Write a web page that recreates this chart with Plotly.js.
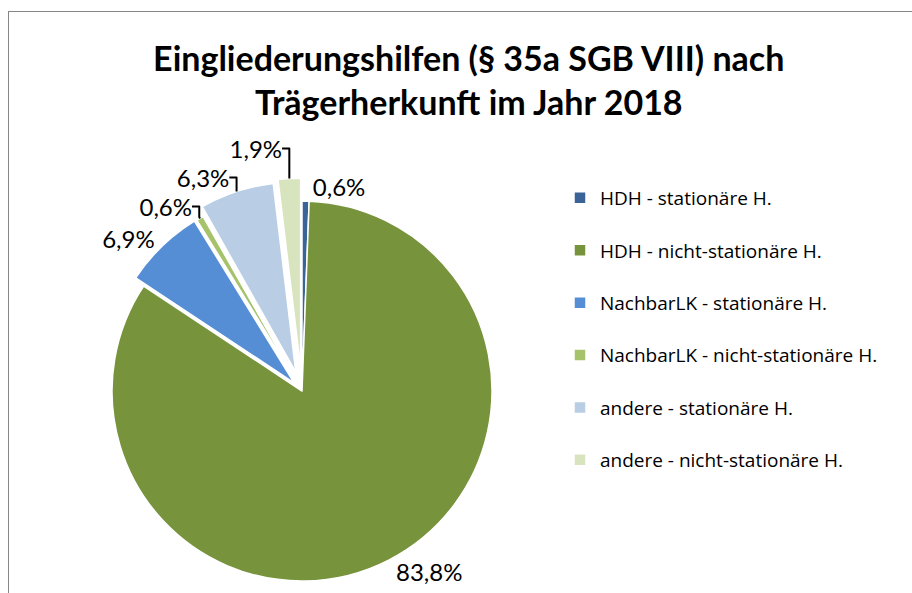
<!DOCTYPE html>
<html>
<head>
<meta charset="utf-8">
<script src="https://cdn.plot.ly/plotly-3.0.1.min.js"></script>
<style>
  html, body { margin: 0; padding: 0; width: 912px; height: 593px; overflow: hidden; background: #fff; }
  #frame { position: absolute; left: 8px; top: 11px; width: 1000px; height: 800px;
           border-left: 1px solid #868686; border-top: 1px solid #868686; }
  #chart { position: absolute; left: 0; top: 0; width: 912px; height: 700px; }
</style>
</head>
<body>
<div id="frame"></div>
<div id="chart"></div>
<script>
const categories = [
  "HDH - stationäre H.",
  "HDH - nicht-stationäre H.",
  "NachbarLK - stationäre H.",
  "NachbarLK - nicht-stationäre H.",
  "andere - stationäre H.",
  "andere - nicht-stationäre H."
];
const shares = [0.6, 83.8, 6.9, 0.6, 6.3, 1.9];
const colors = ["#3A6398", "#77933C", "#558ED5", "#A6C36C", "#B9CDE5", "#D7E4BD"];

const font = "Lato, 'Open Sans', sans-serif";
const legendFont = "'Open Sans', Lato, sans-serif";

const trace = {
  type: "pie",
  labels: categories.map(c => c + "<br> "),
  values: shares,
  sort: false,
  direction: "clockwise",
  rotation: 0,
  pull: [0, 0, 0.06, 0.055, 0.105, 0.12],
  marker: { colors: colors, line: { color: "#ffffff", width: 1.5 } },
  texttemplate: "%{value:.1f}%",
  textposition: "outside",
  outsidetextfont: { family: font, size: 24, color: "#000000" },
  hovertemplate: "%{customdata}: %{value:.1f}%<extra></extra>",
  customdata: categories,
  automargin: false,
  domain: { x: [0.0978, 0.5645], y: [0.1374, 0.7454] }
};

const layout = {
  width: 912,
  height: 700,
  margin: { l: 0, r: 0, t: 0, b: 0 },
  paper_bgcolor: "rgba(0,0,0,0)",
  plot_bgcolor: "rgba(0,0,0,0)",
  separators: ",.",
  title: {
    text: "<b>Eingliederungshilfen (§ 35a SGB VIII) nach<br>Trägerherkunft im Jahr 2018</b>",
    font: { family: font, size: 34, color: "#000000" },
    x: 0.514, xanchor: "center",
    y: 1 - 71 / 700, yanchor: "top", yref: "container"
  },
  showlegend: true,
  legend: {
    x: 560 / 912, xanchor: "left",
    y: 1 - 179 / 700, yanchor: "top",
    valign: "top",
    font: { family: legendFont, size: 19, color: "#000000" },
    bgcolor: "rgba(0,0,0,0)",
    traceorder: "normal"
  }
};

Plotly.newPlot("chart", [trace], layout, { displayModeBar: false, staticPlot: true });
</script>
</body>
</html>
